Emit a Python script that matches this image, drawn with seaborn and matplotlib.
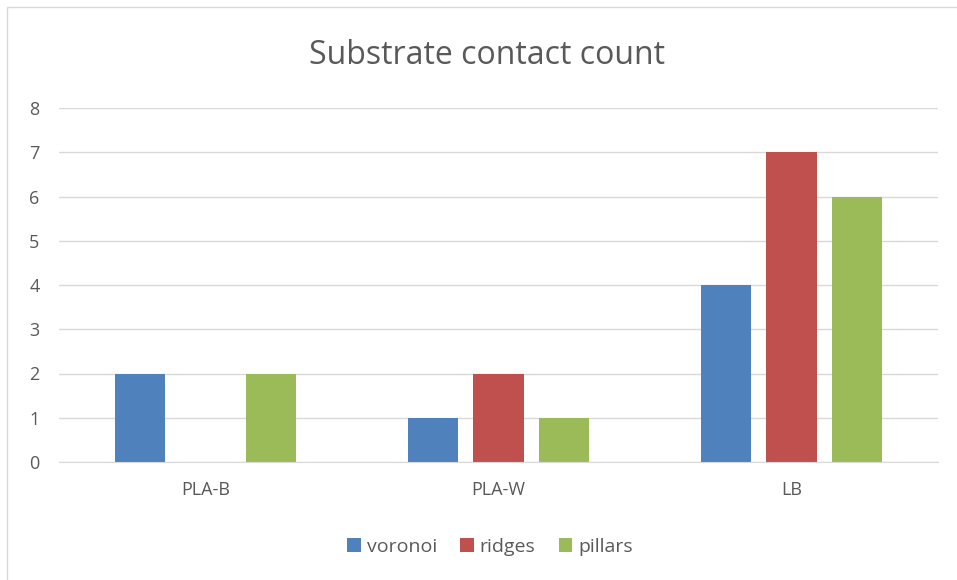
import pandas as pd
import matplotlib.pyplot as plt
import seaborn as sns
from matplotlib.patches import Rectangle

# chart values
groups = ['PLA-B', 'PLA-W', 'LB']
voronoi = [2, 1, 4]
ridges = [0, 2, 7]
pillars = [2, 1, 6]

series = ['voronoi', 'ridges', 'pillars']
colors = ['#4F81BD', '#C0504D', '#9BBB59']

df = pd.DataFrame({'group': groups, 'voronoi': voronoi, 'ridges': ridges, 'pillars': pillars})
df = df.melt(id_vars='group', var_name='series', value_name='count')

sns.set_style('white')
plt.rcParams['font.family'] = ['Open Sans', 'DejaVu Sans']
grey = '#595959'

fig = plt.figure(figsize=(9.57, 5.8), dpi=100)
ax = fig.add_axes([59 / 957, 1 - 462 / 580, 879 / 957, 354 / 580])

sns.barplot(data=df, x='group', y='count', hue='series', hue_order=series,
            palette=colors, width=0.666, gap=0.23, ax=ax, saturation=1, linewidth=0)

ax.set_ylim(0, 8)
ax.set_xlim(-0.5, 2.5)
ax.set_yticks(range(0, 9))
ax.grid(axis='y', color='#D9D9D9', linewidth=1)
ax.set_axisbelow(True)
for s in ['top', 'right', 'left']:
    ax.spines[s].set_visible(False)
ax.spines['bottom'].set_color('#D9D9D9')
ax.tick_params(axis='both', length=0, labelsize=13, colors=grey, pad=14)
ax.tick_params(axis='x', pad=14)
ax.set_xlabel('')
ax.set_ylabel('')

fig.text(487 / 957, 1 - 55 / 580, 'Substrate contact count', ha='center', va='center',
         fontsize=23, color=grey)

handles, labels = ax.get_legend_handles_labels()
ax.get_legend().remove()
fig.legend(handles, labels, loc='center', bbox_to_anchor=(490 / 957, 1 - 547 / 580),
           ncol=3, frameon=False, fontsize=14, labelcolor=grey, handlelength=0.7,
           handleheight=0.7, handletextpad=0.3, columnspacing=1.2)

# chart border
fig.patches.append(Rectangle((7 / 957, -0.1), 1.1, 1 - 7 / 580 + 0.1, transform=fig.transFigure,
                             fill=False, edgecolor='#D9D9D9', linewidth=1))

fig.savefig('out.png', dpi=100)
